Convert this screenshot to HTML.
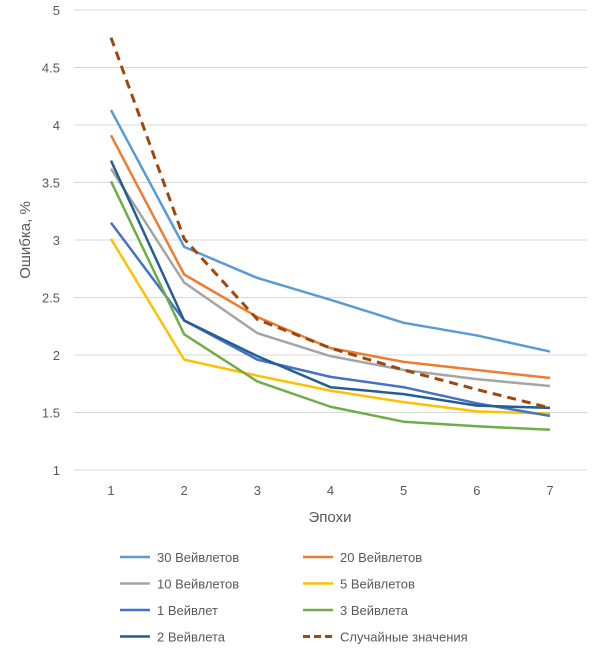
<!DOCTYPE html>
<html><head><meta charset="utf-8"><style>
body{margin:0;background:#fff;font-family:"Liberation Sans",sans-serif;}
svg text{font-family:"Liberation Sans","DejaVu Sans",sans-serif;fill:#595959;}
</style></head><body>
<svg id="chart" width="600" height="656" xmlns="http://www.w3.org/2000/svg">
<g id="grid"></g>
<g id="yticks"></g>
<g id="xticks"></g>
<g id="lines"></g>
<text transform="translate(30,240) rotate(-90)" text-anchor="middle" font-size="15">Ошибка, %</text>
<text x="330" y="522" text-anchor="middle" font-size="15">Эпохи</text>
<g id="legend"></g>
</svg>
<script>
const epochs=[1,2,3,4,5,6,7];
const yTicks=[1,1.5,2,2.5,3,3.5,4,4.5,5];
const yTickLabels=["1","1.5","2","2.5","3","3.5","4","4.5","5"];
const seriesNames=["30 Вейвлетов","20 Вейвлетов","10 Вейвлетов","5 Вейвлетов","1 Вейвлет","3 Вейвлета","2 Вейвлета","Случайные значения"];
const s30=[4.13,2.94,2.67,2.48,2.28,2.17,2.03];
const s20=[3.91,2.70,2.33,2.06,1.94,1.87,1.80];
const s10=[3.62,2.63,2.19,1.99,1.87,1.79,1.73];
const s5=[3.01,1.96,1.82,1.69,1.59,1.51,1.49];
const s1=[3.15,2.30,1.96,1.81,1.72,1.58,1.47];
const s3=[3.51,2.18,1.77,1.55,1.42,1.38,1.35];
const s2=[3.69,2.30,1.99,1.72,1.66,1.56,1.54];
const sRand=[4.76,3.01,2.31,2.06,1.87,1.70,1.54];
const seriesValues=[s30,s20,s10,s5,s1,s3,s2,sRand];
const colors=["#5B9BD5","#ED7D31","#A5A5A5","#FFC000","#4472C4","#70AD47","#255E91","#9E480E"];
const NS="http://www.w3.org/2000/svg";
const xS=v=>111+(v-1)*(550-111)/6;
const yS=v=>470-(v-1)*115;
function mk(t,a,p){const e=document.createElementNS(NS,t);for(const k in a)e.setAttribute(k,a[k]);p.appendChild(e);return e;}
const grid=document.getElementById('grid'),yt=document.getElementById('yticks'),xt=document.getElementById('xticks'),lg=document.getElementById('lines'),leg=document.getElementById('legend');
yTicks.forEach((v,i)=>{
 const l=mk('line',{x1:74,x2:587,y1:yS(v),y2:yS(v),stroke:'#d9d9d9','stroke-width':1},grid);
 
 
 const t=mk('text',{x:60,y:yS(v)+5,'text-anchor':'end','font-size':13},yt);
 
 
 t.textContent=yTickLabels[i];
});
epochs.forEach(v=>{
 const t=mk('text',{x:xS(v),y:495,'text-anchor':'middle','font-size':13},xt);
 
 
 t.textContent=String(v);
});
seriesValues.forEach((vals,i)=>{
 const pts=vals.map((v,j)=>xS(epochs[j])+','+yS(v)).join(' ');
 const p=mk('polyline',{points:pts,fill:'none',stroke:colors[i],'stroke-width':i==7?3:2.5,'stroke-linejoin':'round'},lg);
 if(i==7)p.setAttribute('stroke-dasharray','9,6');
 
 
 const col=i%2,row=Math.floor(i/2);
 const lx=col?303:120,ly=557+row*26.5;
 const g=mk('g',{},leg);
 
 
 const ll=mk('line',{x1:lx,x2:lx+30,y1:ly,y2:ly,stroke:colors[i],'stroke-width':i==7?3:2.5},g);
 if(i==7)ll.setAttribute('stroke-dasharray','7,4');
 const t=mk('text',{x:lx+37,y:ly+5,'font-size':13},g);
 t.textContent=seriesNames[i];
});
</script>
</body></html>
